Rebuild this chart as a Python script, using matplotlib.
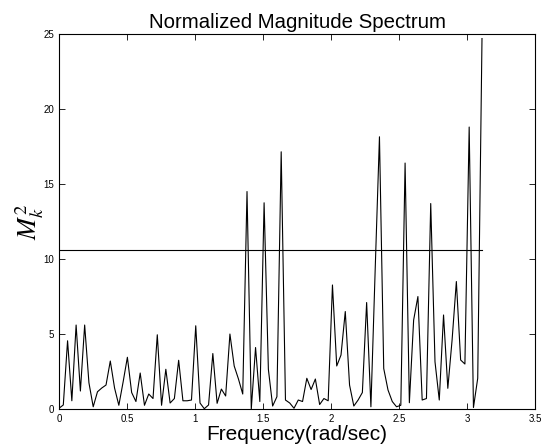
#!/usr/bin/env python

import matplotlib
matplotlib.use('Agg')
import matplotlib.pyplot as plt
import numpy as np

# squared magnitude per FFT bin (N = 200, bins 0..99)
n_fft = 200
mag2 = [
    0.05, 0.27, 4.55, 0.55, 5.6, 1.2, 5.6, 1.75, 0.15, 1.15,
    1.4, 1.6, 3.2, 1.4, 0.25, 1.8, 3.45, 1.1, 0.5, 2.4,
    0.25, 1.0, 0.7, 4.95, 0.25, 2.65, 0.4, 0.7, 3.25, 0.55,
    0.55, 0.6, 5.55, 0.4, 0.02, 0.27, 3.7, 0.38, 1.33, 0.87,
    5.0, 2.87, 2.0, 1.0, 14.5, 0.0, 4.1, 0.5, 13.75, 2.65,
    0.2, 0.82, 17.15, 0.6, 0.4, 0.05, 0.6, 0.5, 2.05, 1.3,
    2.0, 0.3, 0.7, 0.55, 8.27, 2.87, 3.6, 6.5, 1.6, 0.2,
    0.6, 1.1, 7.1, 0.15, 9.3, 18.15, 2.7, 1.27, 0.5, 0.15,
    0.25, 16.4, 0.42, 5.93, 7.5, 0.6, 0.7, 13.7, 3.15, 0.6,
    6.27, 1.38, 4.6, 8.5, 3.27, 3.0, 18.8, 0.1, 2.05, 24.7,
]
threshold = 10.6

xticks = [0, 0.5, 1, 1.5, 2, 2.5, 3, 3.5]
xticklabels = ['0', '0.5', '1', '1.5', '2', '2.5', '3', '3.5']
yticks = [0, 5, 10, 15, 20, 25]

plt.rcParams['font.family'] = ['Liberation Sans', 'DejaVu Sans']
plt.rcParams['mathtext.fontset'] = 'stix'


def main():
    freq = 2 * np.pi * np.arange(len(mag2)) / n_fft

    fig = plt.figure(figsize=(5.42, 4.48), dpi=100)
    ax = fig.add_axes([0.1089, 0.087, 0.8782, 0.837])
    ax.plot(freq, mag2, color='black', linewidth=0.8)
    ax.plot([0, freq[-1]], [threshold, threshold], color='black', linewidth=0.8)

    ax.set_xlim(0, 3.5)
    ax.set_ylim(0, 25)
    ax.set_xticks(xticks)
    ax.set_xticklabels(xticklabels)
    ax.set_yticks(yticks)
    ax.tick_params(direction='in', top=True, right=True, labelsize=7,
                   length=4, width=0.6)
    for s in ax.spines.values():
        s.set_linewidth(0.8)

    ax.set_title('Normalized Magnitude Spectrum', fontsize=14.7, pad=4)
    ax.set_xlabel('Frequency(rad/sec)', fontsize=15, labelpad=1)
    ax.set_ylabel('$M_k^2$', fontsize=19, labelpad=-2)

    fig.savefig('out.png', dpi=100)


if __name__ == '__main__':
    main()
